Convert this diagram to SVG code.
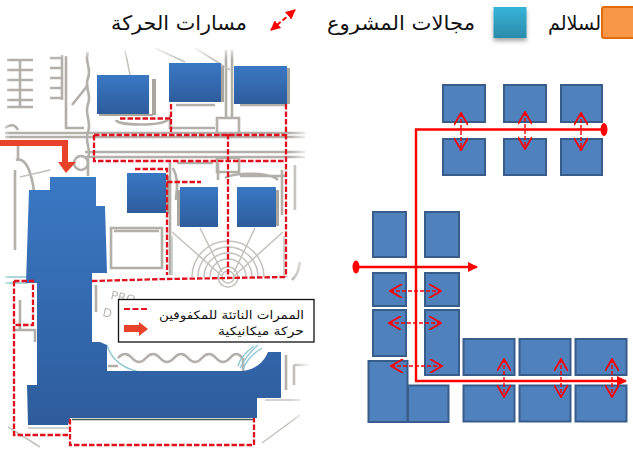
<svg xmlns="http://www.w3.org/2000/svg" width="633" height="450" viewBox="0 0 633 450">
<style>
.t{font-family:"DejaVu Sans",sans-serif;fill:#111}
.s{fill:#4f81bd;stroke:#385d8a;stroke-width:2}
.b{fill:url(#bg)}
.g{fill:#a9a69f}
.d{fill:none;stroke:#e0101e;stroke-width:2.3;stroke-dasharray:5.500 2}
.r{fill:none;stroke:#b3b0aa;stroke-width:2.600}
.r2{fill:none;stroke:#c4c2bd;stroke-width:1.500}
.m{fill:none;stroke:#f00;stroke-width:2.400}
.a{fill:none;stroke:#f00;stroke-width:1.400;stroke-dasharray:4 2}
</style>
<defs>
<linearGradient id="bg" x1="0" y1="0" x2="0" y2="1"><stop offset="0" stop-color="#3a78c4"/><stop offset="1" stop-color="#2e5c9c"/></linearGradient>
<linearGradient id="tg" x1="0" y1="0" x2="0" y2="1"><stop offset="0" stop-color="#36b4d8"/><stop offset="1" stop-color="#2b8bab"/></linearGradient>
<linearGradient id="fl" x1="0" y1="0" x2="1" y2="0"><stop offset="0" stop-color="#fff" stop-opacity="0.9"/><stop offset="1" stop-color="#fff" stop-opacity="0"/></linearGradient>
<linearGradient id="fr" x1="1" y1="0" x2="0" y2="0"><stop offset="0" stop-color="#fff" stop-opacity="1"/><stop offset="1" stop-color="#fff" stop-opacity="0"/></linearGradient>
<linearGradient id="ft" x1="0" y1="0" x2="0" y2="1"><stop offset="0" stop-color="#fff" stop-opacity="1"/><stop offset="1" stop-color="#fff" stop-opacity="0"/></linearGradient>
<filter id="bl" x="-5%" y="-5%" width="110%" height="110%"><feGaussianBlur stdDeviation="0.6"/></filter>
<filter id="sh" x="-20%" y="-20%" width="140%" height="150%"><feDropShadow dx="0" dy="3" stdDeviation="2" flood-color="#000" flood-opacity="0.35"/></filter>
<marker id="ae" viewBox="0 0 10 10" refX="9" refY="5" markerWidth="10" markerHeight="10" orient="auto-start-reverse" markerUnits="userSpaceOnUse"><path d="M0 0L10 5L0 10Z" fill="#f00"/></marker>
<marker id="ao" viewBox="0 0 14 14" refX="13" refY="7" markerWidth="14" markerHeight="14" orient="auto-start-reverse" markerUnits="userSpaceOnUse"><path d="M1 0L13 7L1 14" fill="none" stroke="#f00" stroke-width="1.800"/></marker>
</defs>

<g id="legend-top">
<text class="t" x="247" y="30" font-size="20" direction="rtl" textLength="136" lengthAdjust="spacingAndGlyphs">مسارات الحركة</text>
<path d="M271 30L295 10" fill="none" stroke="#f00" stroke-width="2" stroke-dasharray="5 2.500" marker-start="url(#ae)" marker-end="url(#ae)"/>
<text class="t" x="475" y="30" font-size="20" direction="rtl" textLength="148" lengthAdjust="spacingAndGlyphs">مجالات المشروع</text>
<rect x="493.500" y="7" width="33" height="31" fill="url(#tg)" filter="url(#sh)"/>
<text class="t" x="601" y="30" font-size="20" direction="rtl" textLength="53" lengthAdjust="spacingAndGlyphs">لسلالم</text>
<rect x="602" y="7" width="40" height="31" rx="2" fill="#f79646" stroke="#e36c0a" stroke-width="2"/>
</g>

<g id="site-map" filter="url(#bl)">
<path class="r" d="M7 60H33M7 70H33M7 80H33M7 90H33M7 100H33M7 107H33M20 60V107M50 58H62M50 68H62M50 78H62M50 88H62M50 98H62M62 55V100M66 56V128H84M72 105L88 85"/>
<path class="r" d="M88 52C84 62 92 68 88 78C84 88 92 94 88 104C84 114 92 122 88 132C84 142 92 150 88 158V176"/>
<path class="r" d="M5 133H305M5 137H305M85 152H305M85 157H305M5 128C10 124 15 124 18 130"/>
<path class="r" d="M18 140V160M16 160C30 155 34 190 34 195M15 170V250M232 50V118M226 50V118M217 118H239V135H217ZM217 158H239V172H217ZM170 115V128H215M116 120C118 126 160 126 168 120M176 105H215M240 105H285"/>
<path class="r2" d="M125 50L130 75M155 48L185 62M195 48L230 70"/>
<path class="r" d="M170 160V275M177 163H213M218 163V180M225 178C235 172 270 172 278 180M282 170V215M295 165V210M173 168C180 182 176 190 176 200M240 176H285"/>
<circle class="r" cx="81" cy="163" r="7"/>
<path class="r" d="M111 228H162V268H111ZM114 231H159"/>
<path class="r2" d="M172 232L222 276M283 232L234 276M200 228L222 272M255 228L234 272M172 275V236M284 275V236"/>
<circle class="r2" cx="228" cy="277" r="6"/><circle class="r2" cx="228" cy="277" r="10"/>
<path class="r2" d="M192 277A36 36 0 0 1 264 277M198 277A30 30 0 0 1 258 277M204 277A24 24 0 0 1 252 277M210 277A18 18 0 0 1 246 277"/>
<path class="r" d="M118 358Q125 350 132 358T146 358T160 358T174 358T188 358T202 358T216 358T230 358T242 358M108 366H118M243 358V371M286 355V390M294 365H310M294 365V385"/>
<path class="r" d="M292 280C296 276 298 274 300 262M96 285V312M15 330H35V342M20 330V300"/>
<path d="M107 345C112 362 125 370 145 373M258 345C250 352 244 360 240 368M262 348C252 354 246 360 243 370M254 346C246 352 240 358 238 366M5 277H28M5 283H28" fill="none" stroke="#8fc7d2" stroke-width="1.400"/>
<path class="r2" d="M8 427L40 447M300 415L262 443M28 428H70M20 177L50 170M265 400H300"/>
<rect x="152" y="79" width="4" height="36" class="g"/><rect x="99" y="114" width="54" height="2" class="g"/>
<rect x="221" y="66" width="3" height="36" class="g"/><rect x="287" y="68" width="3" height="36" class="g"/>
<rect x="166" y="176" width="3" height="38" class="g"/><rect x="177" y="190" width="3" height="36" class="g"/><rect x="276" y="190" width="3" height="36" class="g"/>
<text x="110" y="299" font-family="DejaVu Sans,sans-serif" font-size="12" fill="#bcb9b4" transform="rotate(12 110 299)">PRO</text>
<text x="102" y="316" font-family="DejaVu Sans,sans-serif" font-size="12" fill="#bcb9b4" transform="rotate(12 102 316)">D</text>
<rect x="0" y="45" width="10" height="405" fill="url(#fl)"/>
<rect x="290" y="45" width="20" height="405" fill="url(#fr)" transform="matrix(1 0 0 1 0 0)"/>
<rect x="0" y="45" width="310" height="14" fill="url(#ft)"/>
</g>

<g id="main-building">
<path d="M38 283V386M72 419.500H254" fill="none" stroke="#3f5a50" stroke-width="1.500"/>
<path class="b" d="M50 177H96V206H105L107 273H92V342H100L107 345V371H242C255 370 264 362 268 352H281V398H257V418H70L68 425H28L27 385H37V283H26L29 190H50Z"/>
</g>
<g id="building-1"><rect class="b" x="97" y="75" width="52" height="39"/></g>
<g id="building-2"><rect class="b" x="169" y="63" width="52" height="39"/></g>
<g id="building-3"><rect class="b" x="234" y="66" width="53" height="38"/></g>
<g id="building-4"><rect class="b" x="127" y="173" width="39" height="40"/></g>
<g id="building-5"><rect class="b" x="180" y="187" width="38" height="40"/></g>
<g id="building-6"><rect class="b" x="237" y="187" width="39" height="40"/></g>

<g id="accessible-paths">
<path class="d" d="M120 118.500H171M171 104V134M94 135H285M94 135V161H285M286 104V277M228 134V277M135 169H167V275M167 182H201M92 281L167 279L286 277"/>
<path class="d" d="M14 281V435H70M70 419V445H254V418M14 281H33V325H14"/>
</g>
<path id="car-arrow" d="M0 140H68V162H76L66 173L58 162H62V146H0Z" fill="#e8432a"/>

<g id="map-legend">
<rect x="118.500" y="299.500" width="195.500" height="42.500" fill="#fff" stroke="#111" stroke-width="1.300"/>
<path d="M124 309H148" stroke="#e0101e" stroke-width="2.200" stroke-dasharray="6 2.500" fill="none"/>
<path d="M124 325H139V322L148 329L139 336V332H124Z" fill="#e8432a"/>
<text class="t" x="304" y="319" font-size="11.500" direction="rtl" textLength="145" lengthAdjust="spacingAndGlyphs">الممرات الناتئة للمكفوفين</text>
<text class="t" x="304" y="335" font-size="11.500" direction="rtl" textLength="86" lengthAdjust="spacingAndGlyphs">حركة ميكانيكية</text>
</g>

<g id="block-plan">
<rect class="s" x="443" y="85" width="42" height="37"/><rect class="s" x="504" y="85" width="42" height="37"/><rect class="s" x="561" y="85" width="41" height="37"/>
<rect class="s" x="443" y="139" width="42" height="36"/><rect class="s" x="504" y="139" width="42" height="36"/><rect class="s" x="561" y="139" width="41" height="36"/>
<rect class="s" x="373" y="212" width="33" height="45"/><rect class="s" x="425" y="212" width="34" height="45"/>
<rect class="s" x="373" y="273" width="33" height="33"/><rect class="s" x="425" y="273" width="34" height="33"/>
<rect class="s" x="373" y="310" width="33" height="46"/><rect class="s" x="425" y="310" width="34" height="65"/>
<rect class="s" x="368.500" y="361" width="39" height="61"/><rect class="s" x="408" y="385.500" width="40.500" height="36.500"/>
<rect class="s" x="463.500" y="339" width="51" height="36"/><rect class="s" x="519.500" y="339" width="51" height="36"/><rect class="s" x="575.500" y="339" width="51" height="36"/>
<rect class="s" x="463.500" y="385.500" width="51" height="36"/><rect class="s" x="519.500" y="385.500" width="51" height="36"/><rect class="s" x="575.500" y="385.500" width="51" height="36"/>
</g>

<g id="connectors">
<path class="m" d="M604 129.500H416V381H626" marker-end="url(#ae)"/>
<ellipse cx="604" cy="129.500" rx="3.500" ry="6.500" fill="#f00"/>
<path class="m" d="M356 267H477" marker-end="url(#ae)"/>
<ellipse cx="356" cy="267" rx="3.500" ry="6.500" fill="#f00"/>
<path class="a" d="M390 291H441" marker-start="url(#ao)" marker-end="url(#ao)"/>
<path class="a" d="M389 323H441" marker-start="url(#ao)" marker-end="url(#ao)"/>
<path class="a" d="M391 366H442" marker-start="url(#ao)" marker-end="url(#ao)"/>
<path class="a" d="M461 113V150" marker-start="url(#ao)" marker-end="url(#ao)"/>
<path class="a" d="M525 112V149" marker-start="url(#ao)" marker-end="url(#ao)"/>
<path class="a" d="M581 113V150" marker-start="url(#ao)" marker-end="url(#ao)"/>
<path class="a" d="M504 359V397" marker-start="url(#ao)" marker-end="url(#ao)"/>
<path class="a" d="M561 359V397" marker-start="url(#ao)" marker-end="url(#ao)"/>
<path class="a" d="M612 359V397" marker-start="url(#ao)" marker-end="url(#ao)"/>
</g>
</svg>
